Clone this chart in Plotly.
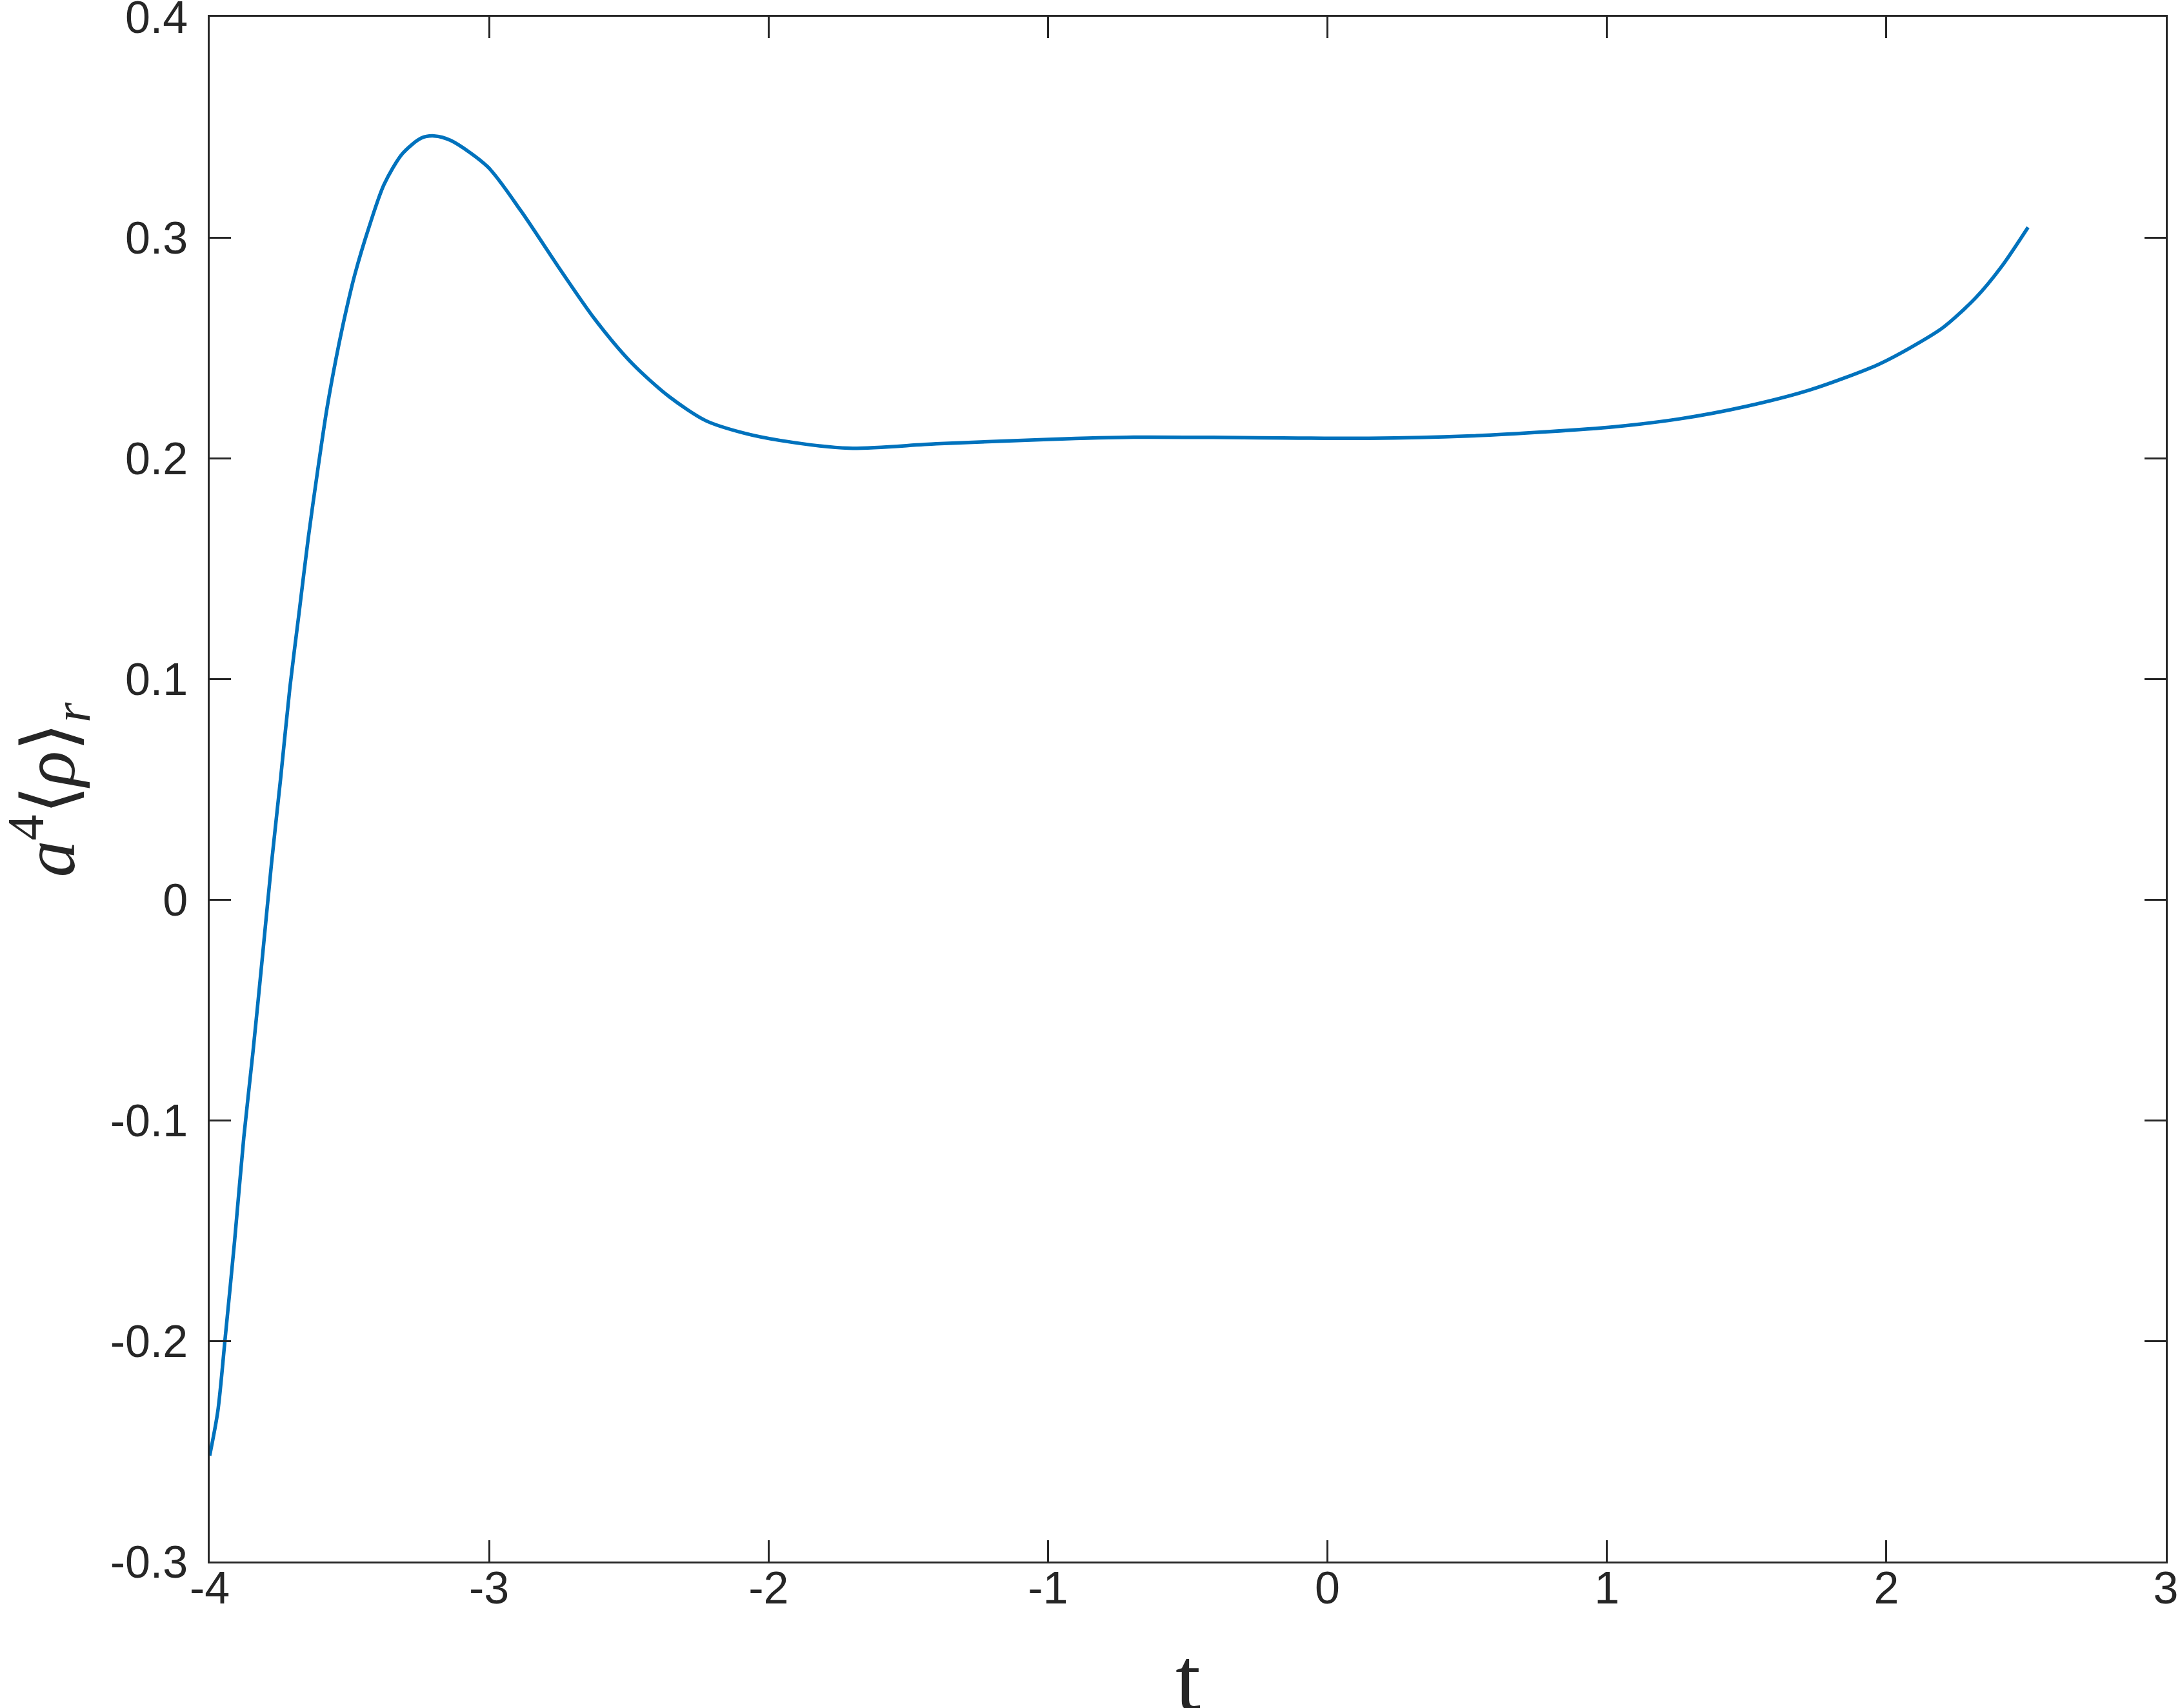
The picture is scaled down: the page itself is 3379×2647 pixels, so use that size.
import plotly.graph_objects as go

# ── Data ────────────────────────────────────────────────────────────
t_vals = [
    -4.000, -3.971, -3.944, -3.911, -3.878, -3.845, -3.812, -3.779, -3.746,
    -3.713, -3.680, -3.647, -3.614, -3.581, -3.548, -3.515, -3.481, -3.429,
    -3.376, -3.310, -3.243, -3.197, -3.138, -3.005, -2.886, -2.754, -2.622,
    -2.489, -2.357, -2.225, -2.093, -1.958, -1.714, -1.400, -1.000, -0.694,
    -0.300, 0.148, 0.500, 0.789, 1.025, 1.260, 1.496, 1.731, 1.967, 2.084,
    2.202, 2.320, 2.414, 2.507,
]
rho_vals = [
    -0.252, -0.232, -0.198, -0.155, -0.108, -0.069, -0.027, 0.016, 0.055,
    0.096, 0.130, 0.164, 0.194, 0.222, 0.245, 0.265, 0.283, 0.305,
    0.324, 0.338, 0.345, 0.346, 0.344, 0.332, 0.312, 0.287, 0.263,
    0.243, 0.228, 0.217, 0.2115, 0.2080, 0.2045, 0.2065, 0.2085, 0.2095,
    0.2093, 0.2090, 0.2100, 0.2120, 0.2142, 0.2178, 0.2234, 0.2311, 0.2422, 0.2499,
    0.2591, 0.2727, 0.2871, 0.3046,
]

x_ticks = [-4, -3, -2, -1, 0, 1, 2, 3]
x_tick_labels = ["-4", "-3", "-2", "-1", "0", "1", "2", "3"]
y_ticks = [-0.3, -0.2, -0.1, 0, 0.1, 0.2, 0.3, 0.4]
y_tick_labels = ["-0.3", "-0.2", "-0.1", "0", "0.1", "0.2", "0.3", "0.4"]
x_title = "t"
y_title = "<i>a</i><sup>4</sup>⟨<i>ρ</i>⟩<sub><i>r</i></sub>"

AXIS_COLOR = "#262626"
LINE_COLOR = "#0072BD"
TICK_FONT = dict(family="Liberation Sans, Arial, sans-serif", size=70, color=AXIS_COLOR)
XLABEL_FONT = dict(family="Liberation Serif, Times New Roman, serif", size=140, color=AXIS_COLOR)
YLABEL_FONT = dict(family="Liberation Serif, Times New Roman, serif", size=114, color=AXIS_COLOR)

fig = go.Figure()
fig.add_trace(go.Scatter(
    x=t_vals,
    y=rho_vals,
    mode="lines",
    line=dict(color=LINE_COLOR, width=5.5, shape="spline", smoothing=0.8),
    showlegend=False,
))

axis_common = dict(
    showline=True,
    linecolor=AXIS_COLOR,
    linewidth=2.5,
    mirror="ticks",
    ticks="inside",
    ticklen=33,
    tickwidth=2.5,
    tickcolor=AXIS_COLOR,
    showgrid=False,
    zeroline=False,
    automargin=False,
    ticklabeloverflow="allow",
    tickfont=TICK_FONT,
)

fig.update_layout(
    width=3379,
    height=2647,
    paper_bgcolor="white",
    plot_bgcolor="white",
    margin=dict(l=325, r=22, t=26, b=227),
    xaxis=dict(
        range=[-4, 3],
        tickvals=x_ticks,
        ticktext=x_tick_labels,
        ticklabelstandoff=-22,
        **axis_common,
    ),
    yaxis=dict(
        range=[-0.3, 0.4],
        tickvals=y_ticks,
        ticktext=y_tick_labels,
        ticklabelstandoff=17,
        **axis_common,
    ),
)

# axis titles as annotations: the built-in title standoff gets squeezed by the margins
fig.add_annotation(
    text=x_title, font=XLABEL_FONT, showarrow=False,
    xref="paper", yref="paper", x=0.5, y=-0.043,
    xanchor="center", yanchor="top",
)
fig.add_annotation(
    text=y_title, font=YLABEL_FONT, showarrow=False, textangle=-90,
    xref="paper", yref="paper", x=-0.082, y=0.5,
    xanchor="center", yanchor="middle",
)

# drop the default page margin so the figure sits at the window's corner
fig.write_html(
    "out.html",
    config={"displayModeBar": False},
    post_script="document.body.style.margin='0';",
)
